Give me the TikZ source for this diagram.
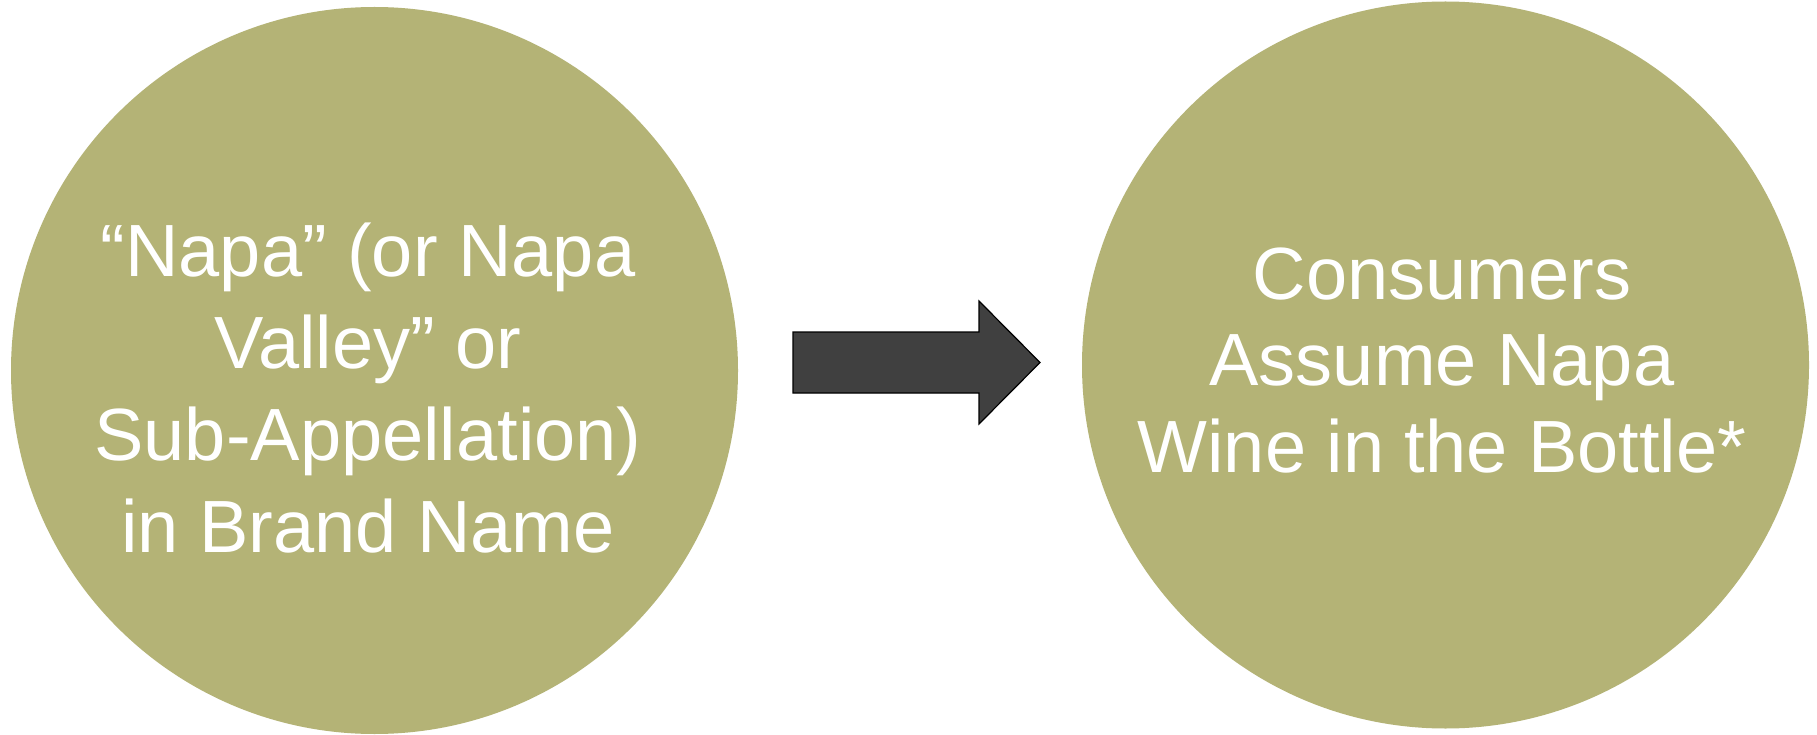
\documentclass[tikz,border=0pt]{standalone}
\usepackage{fontspec}
\setmainfont{Liberation Sans}
\definecolor{olivefill}{HTML}{B4B376}
\definecolor{arrowfill}{HTML}{404040}
\begin{document}
\begin{tikzpicture}[x=1pt,y=-1pt,
  disc/.style={circle,fill=olivefill,draw=none,inner sep=0pt,minimum size=727pt},
  bigtext/.style={text=white,align=center,inner sep=0pt,anchor=base},
  bigarrow/.style={fill=arrowfill,draw=black,line width=1.2pt,line join=miter}]
\fill[white] (0,0) rectangle (1817,735);
\useasboundingbox (0,0) rectangle (1817,735);
\begin{scope}
\clip (0,0) rectangle (1817,735);
\node[disc] (left) at (374.5,370.5) {};
\node[disc] (right) at (1445.5,365) {};
\end{scope}
\node[bigtext,font=\fontsize{74}{92}\selectfont] (lefttext) at (368,552)
  {“Napa” (or Napa\\Valley” or\\Sub-Appellation)\\in Brand Name};
\node[bigtext,font=\fontsize{74}{86.2}\selectfont] (righttext) at (1442,472)
  {Consumers\\Assume Napa\\Wine in the Bottle*};
\coordinate (a1) at (793,332);
\coordinate (a2) at (979,332);
\coordinate (a3) at (979,301);
\coordinate (tip) at (1040,362.5);
\coordinate (a5) at (979,424);
\coordinate (a6) at (979,393);
\coordinate (a7) at (793,393);
\draw[bigarrow] (a1) -- (a2) -- (a3) -- (tip) -- (a5) -- (a6) -- (a7) -- cycle;
\end{tikzpicture}
\end{document}
